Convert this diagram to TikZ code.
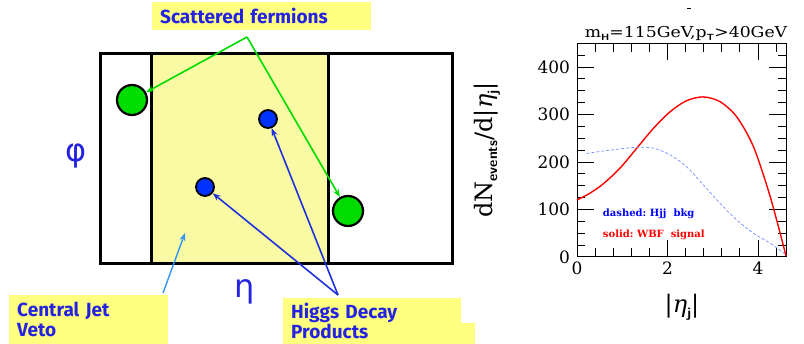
\documentclass[tikz,border=0pt]{standalone}
\usepackage{fontspec}
\usetikzlibrary{arrows.meta}
\newfontfamily\lab{Fira Sans}
\newfontfamily\plotf{DejaVu Serif}
\newfontfamily\grk{DejaVu Sans}
\definecolor{labblue}{RGB}{35,35,225}
\definecolor{boxyellow}{RGB}{255,255,128}
\definecolor{paleyellow}{RGB}{250,250,165}
\definecolor{fgreen}{RGB}{0,220,0}
\definecolor{arrblue}{RGB}{30,50,220}
\definecolor{lightblue}{RGB}{50,150,250}
\definecolor{dotblue}{RGB}{0,50,255}
\definecolor{dashblue}{RGB}{120,140,255}
\begin{document}
\begin{tikzpicture}[x=1pt,y=-1pt,
  labbox/.style={fill=boxyellow, anchor=north west, inner xsep=8pt, align=left,
     font=\lab\bfseries\fontsize{19}{20}\selectfont, text=labblue},
  greendot/.style={circle, fill=fgreen, draw=black, line width=2.2pt, minimum size=30pt, inner sep=0pt},
  bluedot/.style={circle, fill=dotblue, draw=black, line width=1.8pt, minimum size=18pt, inner sep=0pt},
  greenarr/.style={draw=fgreen, line width=1.6pt, -{Stealth[length=8pt,width=6pt]}},
  bluearr/.style={draw=arrblue, line width=1.6pt, -{Stealth[length=8pt,width=6pt]}},
  lbluearr/.style={draw=lightblue, line width=1.4pt, -{Stealth[length=8pt,width=6pt]}},
  greek/.style={text=labblue, font=\grk\fontsize{32}{32}\selectfont},
  ptxt/.style={font=\plotf\fontsize{17}{17}\selectfont},
]
\useasboundingbox (0,0) rectangle (804,344);
% ---------- left diagram ----------
\draw[line width=3pt] (100,54) rectangle (452,264);
\fill[paleyellow] (151,54) rectangle (328,264);
\draw[line width=3pt] (151,54) rectangle (328,264);

\node[greendot] (g1) at (132,100) {};
\node[greendot] (g2) at (348,211) {};
\node[bluedot] (b1) at (268,119) {};
\node[bluedot] (b2) at (205,187) {};

\node[labbox, minimum width=219pt, minimum height=28pt, text width=203pt] (sf) at (152,2) {Scattered fermions};
\node[labbox, minimum width=159pt, minimum height=49pt, text width=143pt] (cjv) at (9,295) {Central Jet\\Veto};
\fill[boxyellow] (283,323) rectangle (475,344);
\node[labbox, minimum width=178pt, minimum height=46pt, text width=162pt] (hdp) at (283,298) {Higgs Decay\\Products};

\node[greek] (phi) at (76,156) {φ};
\node[greek] (eta) at (245,292) {η};

\coordinate (sfa) at (247,37);
\draw[greenarr] (sfa) -- (g1);
\draw[greenarr] (sfa) -- (g2);
\coordinate (hda) at (338,295);
\draw[bluearr] (hda) -- (b1);
\draw[bluearr] (hda) -- (b2);
\coordinate (cja) at (163,293);
\coordinate (cjt) at (185,233);
\draw[lbluearr] (cja) -- (cjt);

% ---------- right plot ----------
\draw[line width=1pt] (687,9) -- (691,9);
\node[font=\plotf\fontsize{15}{15}\selectfont, xscale=1.15] (title) at (686,33) {m\textsf{\bfseries\fontsize{9}{9}\selectfont\raisebox{-3pt}{H}}=115GeV,p\textsf{\bfseries\fontsize{9}{9}\selectfont\raisebox{-3pt}{T}}>40GeV};
\node[rotate=90, font=\plotf\fontsize{24}{24}\selectfont] (ylab) at (487,150) {dN\raisebox{-5pt}{\textsf{\bfseries\fontsize{14}{14}\selectfont events}}/d|\textit{η}\raisebox{-5pt}{\textsf{\bfseries\fontsize{14}{14}\selectfont j}}|};
\node[font=\plotf\fontsize{24}{24}\selectfont] (xlab) at (682,307) {|\textit{η}\raisebox{-5pt}{\textsf{\bfseries\fontsize{14}{14}\selectfont j}}|};

\begin{scope}[shift={(577,257)}, x=45.25pt, y=0.475pt]
  \draw[line width=1pt] (0,0) rectangle (4.62,450);
  \foreach \i in {1,...,11} {
    \pgfmathsetmacro\xx{0.4*\i}
    \pgfmathsetmacro\tl{(\i==5 || \i==10) ? 36 : 19}
    \draw[line width=0.9pt] (\xx,0) -- (\xx,\tl);
    \draw[line width=0.9pt] (\xx,450) -- (\xx,450-\tl);
  }
  \draw[line width=0.9pt] (0,450) -- (0,414);
  \foreach \i in {1,...,17} {
    \pgfmathsetmacro\yy{25*\i}
    \pgfmathsetmacro\tl{(mod(\i,4)==0) ? 0.38 : 0.18}
    \draw[line width=0.9pt] (0,\yy) -- (\tl,\yy);
    \draw[line width=0.9pt] (4.62,\yy) -- (4.62-\tl,\yy);
  }
  \foreach \v in {0,100,200,300,400}
    \node[ptxt, anchor=east, inner sep=0pt] at (-0.15,\v) {\v};
  \foreach \v in {0,2,4}
    \node[ptxt, anchor=north, inner sep=0pt] at (\v,-10) {\v};

  \draw[red, line width=1.4pt] plot[smooth] coordinates {
    (0,120) (0.28,134) (0.58,154) (0.95,187) (1.32,229) (1.69,271) (2.06,306) (2.42,329)
    (2.79,337) (3.16,327) (3.53,295) (3.90,232) (4.27,127) (4.62,2)};
  \draw[dashblue, line width=0.7pt, dash pattern=on 3pt off 2pt] plot[smooth] coordinates {
    (0.21,218) (0.73,225) (1.32,231) (1.69,229) (2.06,215) (2.42,190) (2.79,152)
    (3.16,113) (3.53,78) (3.90,50) (4.27,29) (4.6,6)};

  \node[anchor=west, inner sep=0pt, text=blue, font=\plotf\bfseries\fontsize{10}{10}\selectfont] (leg1) at (0.57,90) {dashed:~Hjj~~bkg};
  \node[anchor=west, inner sep=0pt, text=red, font=\plotf\bfseries\fontsize{10}{10}\selectfont] (leg2) at (0.57,46) {solid:~WBF~~signal};
\end{scope}
\end{tikzpicture}
\end{document}
